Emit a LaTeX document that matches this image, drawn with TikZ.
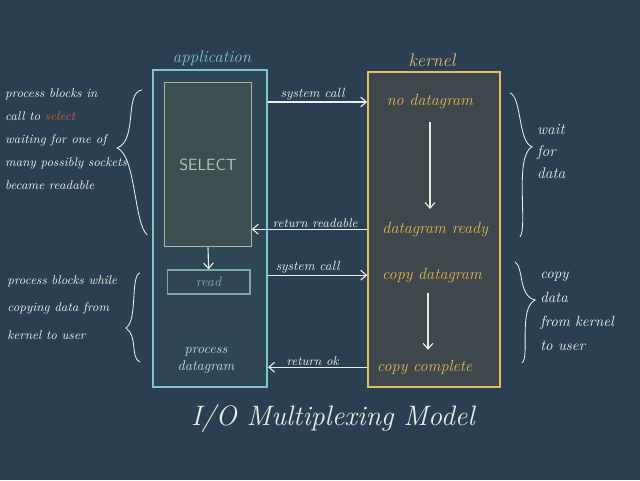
\documentclass[tikz,border=0pt]{standalone}
\usepackage{tikz}
\usetikzlibrary{arrows.meta}
\definecolor{board}{RGB}{42,64,82}
\definecolor{appline}{RGB}{125,195,208}
\definecolor{appfill}{RGB}{46,70,86}
\definecolor{selline}{RGB}{160,190,150}
\definecolor{selfill}{RGB}{60,78,82}
\definecolor{rdline}{RGB}{120,170,160}
\definecolor{kline}{RGB}{228,188,100}
\definecolor{kfill}{RGB}{62,72,76}
\definecolor{kink}{RGB}{230,180,80}
\definecolor{chalk}{RGB}{236,236,230}
\definecolor{chalkred}{RGB}{215,80,55}

\begin{document}
\begin{tikzpicture}[every node/.style={font=\itshape, inner sep=1pt},
  arr/.style={draw=chalk, line width=0.8pt, -{Straight Barb[length=4pt,width=7pt]}},
  note/.style={text=chalk, align=left, anchor=north west, inner sep=0pt},
  knote/.style={text=kink, font=\itshape\fontsize{11.5}{13}\selectfont},
  brace/.style={draw=chalk, line width=0.6pt}]
  \fill[board] (0,0) rectangle (16,12);
  \node[draw=appline, fill=appfill, line width=1.2pt, minimum width=2.85cm, minimum height=7.92cm] (app) at (5.255,6.29) {};
  \node[draw=selline, fill=selfill, line width=0.8pt, minimum width=2.16cm, minimum height=4.10cm, font=\sffamily\fontsize{11.5}{14}\selectfont, text=selline!80!white] (sel) at (5.20,7.88) {SELECT};
  \node[draw=rdline, line width=0.8pt, minimum width=2.07cm, minimum height=0.60cm, font=\itshape\fontsize{10}{12}\selectfont, text=rdline] (rd) at (5.215,4.95) {read};
  \node[font=\itshape\fontsize{10}{12}\selectfont, text=appline!60!white, align=center] (proc) at (5.15,3.00) {process\\datagram};
  \node[font=\itshape\fontsize{12}{14}\selectfont, text=appline] (appname) at (5.30,10.55) {application};
  \node[draw=kline, fill=kfill, line width=1.2pt, minimum width=3.30cm, minimum height=7.87cm] (kern) at (10.85,6.265) {};
  \node[font=\itshape\fontsize{13}{15}\selectfont, text=kline] (kernname) at (10.80,10.50) {kernel};
  \node[knote] (nodata) at (10.75,9.45) {no datagram};
  \node[knote] (ready) at (10.88,6.27) {datagram ready};
  \node[knote] (copy) at (10.80,5.12) {copy datagram};
  \node[knote] (done) at (10.62,2.82) {copy complete};
  \draw[arr] (sel.south) -- (rd.north);
  \draw[arr, shorten <=8pt, shorten >=8pt] (nodata.south) -- (nodata.south |- ready.north);
  \draw[arr, shorten <=6pt, shorten >=6pt] (copy.south -| 10.70,0) -- (done.north -| 10.70,0);
  \draw[arr] (app.east |- nodata) -- node[above, pos=0.45, font=\itshape\fontsize{9.5}{11}\selectfont, text=chalk] (call1) {system call} (kern.west |- nodata);
  \draw[arr] (kern.west |- ready) -- node[above, pos=0.45, font=\itshape\fontsize{9}{11}\selectfont, text=chalk] (retrd) {return readable} (sel.east |- ready);
  \draw[arr] (app.east |- copy) -- node[above, pos=0.4, font=\itshape\fontsize{9.5}{11}\selectfont, text=chalk] (call2) {system call} (kern.west |- copy);
  \draw[arr] (kern.west |- done) -- node[above, pos=0.55, font=\itshape\fontsize{9}{11}\selectfont, text=chalk] (retok) {return ok} (app.east |- done);
  \node[note, font=\itshape\fontsize{9}{16.5}\selectfont] (waitnote) at (0.12,9.80) {process blocks in\\call to \textcolor{chalkred}{select}\\waiting for one of\\many possibly sockets\\became readable};
  \node[note, font=\itshape\fontsize{9}{19.5}\selectfont] (copynote) at (0.18,5.12) {process blocks while\\copying data from\\kernel to user};
  \node[note, font=\itshape\fontsize{11}{15.6}\selectfont] (waitdata) at (13.42,8.90) {wait\\for\\data};
  \node[note, font=\itshape\fontsize{10.5}{17}\selectfont] (copydata) at (13.50,5.20) {copy\\data\\from kernel\\to user};
  \draw[brace] (3.55,9.75) .. controls (3.10,9.70) and (3.45,8.50) .. (2.93,8.30) .. controls (3.40,8.10) and (3.35,6.40) .. (3.68,6.13);
  \draw[brace] (3.50,5.18) .. controls (3.25,5.10) and (3.45,4.00) .. (3.15,3.80) .. controls (3.45,3.60) and (3.25,3.05) .. (3.50,2.95);
  \draw[brace] (12.75,9.68) .. controls (13.05,9.55) and (12.95,8.45) .. (13.30,8.33) .. controls (12.85,8.10) and (13.20,6.30) .. (13.00,6.08);
  \draw[brace] (12.88,5.45) .. controls (13.10,5.30) and (12.95,4.60) .. (13.38,4.50) .. controls (12.95,4.30) and (13.25,3.05) .. (13.05,2.93);
  \node[font=\itshape\fontsize{20}{24}\selectfont, text=chalk] (title) at (8.32,1.55) {I/O Multiplexing Model};
\end{tikzpicture}
\end{document}
